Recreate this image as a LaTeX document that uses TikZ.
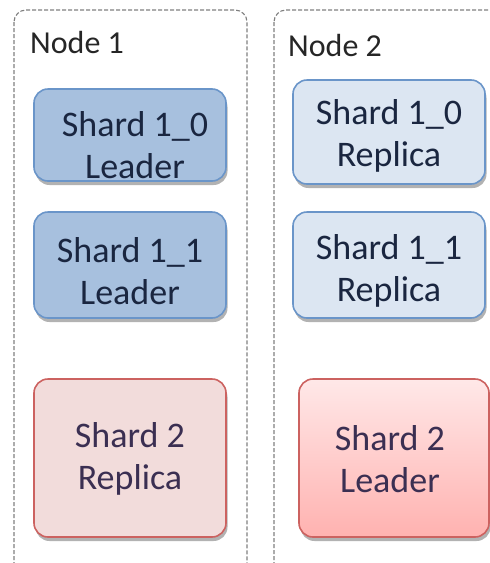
\documentclass[tikz,border=0pt]{standalone}
\usepackage{fontspec}
\setmainfont{Carlito}
\usetikzlibrary{shadows}
\definecolor{bluefill}{HTML}{A7C0DE}
\definecolor{lbluefill}{HTML}{DCE6F2}
\definecolor{blueline}{HTML}{6A95C9}
\definecolor{pinkfill}{HTML}{F2DCDB}
\definecolor{redline}{HTML}{CC6260}
\definecolor{redtop}{HTML}{FFE8E8}
\definecolor{redbot}{HTML}{FFB2B0}
\definecolor{navytext}{HTML}{1A2640}
\definecolor{purpletext}{HTML}{3B2F52}
\definecolor{contline}{HTML}{7F7F7F}
\tikzset{
  container/.style={draw=contline, line width=1.1pt, dash pattern=on 4pt off 2pt, rounded corners=12pt},
  shardbox/.style={rectangle, rounded corners=14pt, line width=1.6pt, minimum width=192pt,
    drop shadow={shadow xshift=1.5pt, shadow yshift=-4pt, opacity=0.3, fill=black}},
  lead1/.style={shardbox, draw=blueline, fill=bluefill},
  rep1/.style={shardbox, draw=blueline, fill=lbluefill},
  rep2/.style={shardbox, draw=redline, fill=pinkfill},
  lead2/.style={shardbox, draw=redline, top color=redtop, bottom color=redbot},
  bluetxt/.style={align=center, text=navytext, font=\fontsize{36}{42}\selectfont, inner sep=0pt},
  redtxt/.style={align=center, text=purpletext, font=\fontsize{36}{42}\selectfont, inner sep=0pt},
  nodelabel/.style={anchor=west, text=black!85, font=\fontsize{32}{38}\selectfont, inner sep=0pt}
}
\begin{document}
\begin{tikzpicture}[x=1pt,y=-1pt]
\useasboundingbox (0,0) rectangle (490,563);
\clip (0,0) rectangle (490,563);
% containers
\draw[container] (14,10) rectangle (247,600);
\draw[container] (274,10) rectangle (540,600);
\node[nodelabel] (n1) at (30,42) {Node 1};
\node[nodelabel] (n2) at (288,45) {Node 2};
% Node 1 shards
\node[lead1, minimum height=92pt] (b1) at (130,135) {};
\node[bluetxt] (t1) at (135,145) {Shard 1\_0\\Leader};
\node[lead1, minimum height=106pt] (b2) at (130,265) {};
\node[bluetxt] (t2) at (130,271) {Shard 1\_1\\Leader};
\node[rep2, minimum height=158pt] (b3) at (130,458) {};
\node[redtxt] (t3) at (130,459) {Shard 2\\Replica};
% Node 2 shards
\node[rep1, minimum height=104pt] (b4) at (389,132) {};
\node[bluetxt] (t4) at (389,136) {Shard 1\_0\\Replica};
\node[rep1, minimum height=106pt] (b5) at (389,265) {};
\node[bluetxt] (t5) at (389,271) {Shard 1\_1\\Replica};
\node[lead2, minimum height=158pt, minimum width=190pt] (b6) at (394,458) {};
\node[redtxt] (t6) at (390,459) {Shard 2\\Leader};
\end{tikzpicture}
\end{document}
